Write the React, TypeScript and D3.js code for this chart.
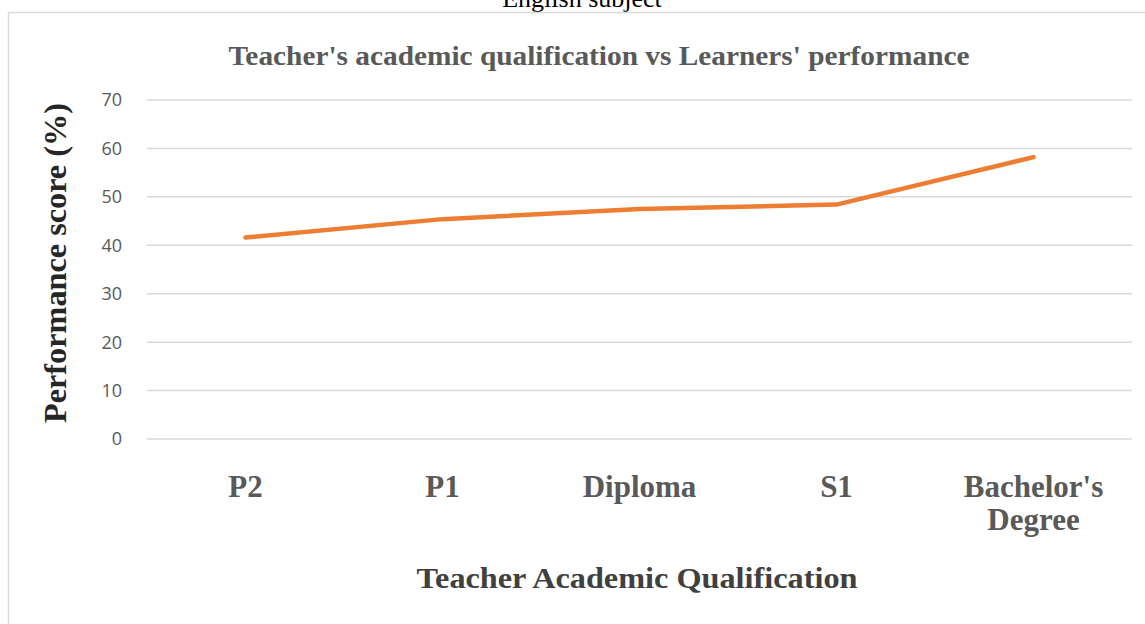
import * as d3 from "d3";

const WIDTH = 1145;
const HEIGHT = 624;
const PLOT = { left: 147, right: 1132, top: 100, bottom: 439 };

const categories = ["P2", "P1", "Diploma", "S1", "Bachelor's Degree"];
const categoryLines = [["P2"], ["P1"], ["Diploma"], ["S1"], ["Bachelor's", "Degree"]];
const scores = [41.6, 45.4, 47.5, 48.4, 58.2];
const yTicks = [0, 10, 20, 30, 40, 50, 60, 70];

const SERIF = "'Liberation Serif', 'Times New Roman', serif";
const SANS = "'Open Sans', 'Liberation Sans', sans-serif";

export default function App() {
  const x = d3
    .scaleBand<string>()
    .domain(categories)
    .range([PLOT.left, PLOT.right]);

  const y = d3.scaleLinear().domain([0, 70]).range([PLOT.bottom, PLOT.top]);

  const points = categories.map((c, i) => ({ cat: c, value: scores[i] }));

  const line = d3
    .line<{ cat: string; value: number }>()
    .x((d) => (x(d.cat) ?? 0) + x.bandwidth() / 2)
    .y((d) => y(d.value));

  return (
    <svg
      width={WIDTH}
      height={HEIGHT}
      style={{ position: "fixed", left: 0, top: 0, background: "#fff" }}
    >
      {/* caption from the page above, clipped at the top like the source */}
      <text x={582} y={7} textAnchor="middle" fontFamily={SERIF} fontSize={26} fill="#000">
        English subject
      </text>

      {/* chart area frame */}
      <rect x={8.5} y={12.5} width={1150} height={640} fill="#fff" stroke="#d9d9d9" strokeWidth={1.5} />

      <text
        x={599}
        y={65}
        textAnchor="middle"
        fontFamily={SERIF}
        fontWeight="bold"
        fontSize={28}
        fill="#595959"
        textLength={741}
        lengthAdjust="spacingAndGlyphs"
      >
        Teacher's academic qualification vs Learners' performance
      </text>

      {yTicks.map((t) => (
        <g key={t}>
          <line x1={PLOT.left} x2={PLOT.right} y1={y(t)} y2={y(t)} stroke="#d9d9d9" strokeWidth={1.5} />
          <text
            x={122}
            y={y(t)}
            dy="0.36em"
            textAnchor="end"
            fontFamily={SANS}
            fontSize={18}
            fill="#595959"
          >
            {t}
          </text>
        </g>
      ))}

      <text
        transform={`translate(66,263) rotate(-90)`}
        textAnchor="middle"
        fontFamily={SERIF}
        fontWeight="bold"
        fontSize={31}
        fill="#262626"
        textLength={320}
        lengthAdjust="spacingAndGlyphs"
      >
        Performance score (%)
      </text>

      <path
        d={line(points) ?? ""}
        fill="none"
        stroke="#ed7d31"
        strokeWidth={4.5}
        strokeLinecap="round"
        strokeLinejoin="round"
      />

      {categories.map((c, i) => (
        <text
          key={c}
          x={(x(c) ?? 0) + x.bandwidth() / 2}
          y={497}
          textAnchor="middle"
          fontFamily={SERIF}
          fontWeight="bold"
          fontSize={31}
          fill="#595959"
        >
          {categoryLines[i].map((ln, j) => (
            <tspan key={ln} x={(x(c) ?? 0) + x.bandwidth() / 2} dy={j === 0 ? 0 : 33}>
              {ln}
            </tspan>
          ))}
        </text>
      ))}

      <text
        x={637}
        y={588}
        textAnchor="middle"
        fontFamily={SERIF}
        fontWeight="bold"
        fontSize={30}
        fill="#404040"
        textLength={441}
        lengthAdjust="spacingAndGlyphs"
      >
        Teacher Academic Qualification
      </text>
    </svg>
  );
}
